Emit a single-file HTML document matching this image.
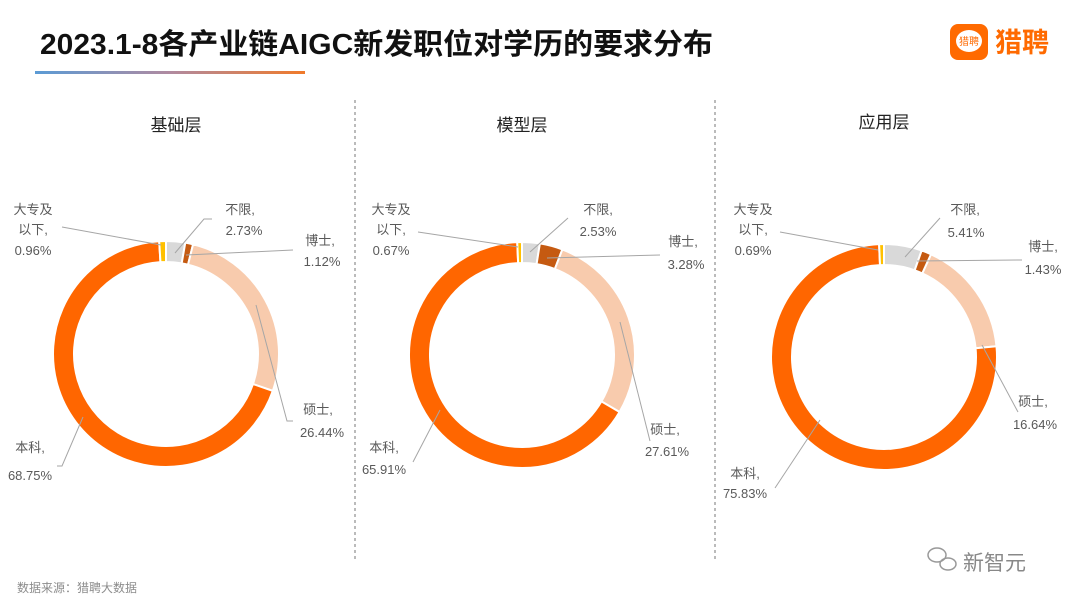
<!DOCTYPE html>
<html><head><meta charset="utf-8"><style>
body{margin:0;width:1080px;height:608px;background:#fff;overflow:hidden;font-family:"Liberation Sans","Noto Sans CJK SC",sans-serif}
</style></head><body>
<svg width="1080" height="608" xmlns="http://www.w3.org/2000/svg" style="position:absolute;left:0;top:0;font-family:'Liberation Sans','Noto Sans CJK SC',sans-serif">
<defs><linearGradient id="g" x1="0" x2="1"><stop offset="0" stop-color="#5b9bd5"/><stop offset="0.5" stop-color="#b08aa0"/><stop offset="1" stop-color="#f07a2a"/></linearGradient></defs>
<text x="40" y="54" font-size="29" font-weight="bold" fill="#111" textLength="673" lengthAdjust="spacingAndGlyphs">2023.1-8各产业链AIGC新发职位对学历的要求分布</text>
<rect x="35" y="71" width="270" height="3" fill="url(#g)"/>
<rect x="950" y="24" width="38" height="36" rx="8" fill="#ff6a00"/>
<ellipse cx="969" cy="41" rx="13" ry="11" fill="#fff"/>
<text x="969" y="45" font-size="10" fill="#ff6a00" text-anchor="middle">猎聘</text>
<text x="995" y="52" font-size="27" font-weight="bold" fill="#ff6a00">猎聘</text>
<line x1="355" y1="100" x2="355" y2="560" stroke="#777" stroke-dasharray="3,3"/>
<line x1="715" y1="100" x2="715" y2="560" stroke="#777" stroke-dasharray="3,3"/>
<g font-size="17" fill="#222" text-anchor="middle">
<text x="176" y="131">基础层</text><text x="522" y="131">模型层</text><text x="884" y="128">应用层</text></g>
<g id="donuts"></g>
<g stroke="#a6a6a6" fill="none" stroke-width="1">
<polyline points="62,227 161,245"/><polyline points="212,219 204,219 175,253"/><polyline points="293,250 186,255"/><polyline points="293,421 287,421 256,305"/><polyline points="57,466 62,466 83,417"/>
<polyline points="418,232 518,247"/><polyline points="568,218 530,252"/><polyline points="660,255 547,258"/><polyline points="650,441 620,322"/><polyline points="413,462 440,410"/>
<polyline points="780,232 878,250"/><polyline points="940,218 905,257"/><polyline points="1022,260 917,261"/><polyline points="1018,412 982,345"/><polyline points="775,488 820,420"/>
</g>
<g font-size="13" fill="#595959" text-anchor="middle">
<text x="33" y="214">大专及</text><text x="33" y="234">以下,</text><text x="33" y="255">0.96%</text>
<text x="240" y="214">不限,</text><text x="244" y="235">2.73%</text>
<text x="320" y="245">博士,</text><text x="322" y="266">1.12%</text>
<text x="318" y="414">硕士,</text><text x="322" y="437">26.44%</text>
<text x="30" y="452">本科,</text><text x="30" y="480">68.75%</text>
<text x="391" y="214">大专及</text><text x="391" y="234">以下,</text><text x="391" y="255">0.67%</text>
<text x="598" y="214">不限,</text><text x="598" y="236">2.53%</text>
<text x="683" y="246">博士,</text><text x="686" y="269">3.28%</text>
<text x="665" y="434">硕士,</text><text x="667" y="456">27.61%</text>
<text x="384" y="452">本科,</text><text x="384" y="474">65.91%</text>
<text x="753" y="214">大专及</text><text x="753" y="234">以下,</text><text x="753" y="255">0.69%</text>
<text x="965" y="214">不限,</text><text x="966" y="237">5.41%</text>
<text x="1043" y="251">博士,</text><text x="1043" y="274">1.43%</text>
<text x="1033" y="406">硕士,</text><text x="1035" y="429">16.64%</text>
<text x="745" y="478">本科,</text><text x="745" y="498">75.83%</text>
</g>
<text x="17" y="592" font-size="12" fill="#8c8c8c">数据来源：猎聘大数据</text>
<g fill="none" stroke="#999" stroke-width="1.5"><ellipse cx="937" cy="555" rx="9" ry="7"/><ellipse cx="948" cy="564" rx="8" ry="6"/></g>
<text x="963" y="570" font-size="21" fill="#888">新智元</text>
</svg>
<script>
var data=[[166,354,[2.73,1.12,26.44,68.75,0.96]],[522,355,[2.53,3.28,27.61,65.91,0.67]],[884,357,[5.41,1.43,16.64,75.83,0.69]]];
var cols=["#d9d9d9","#c55a11","#f8cbad","#ff6600","#ffc000"];
var R=113,r=92,h="";
data.forEach(function(d){var cx=d[0],cy=d[1],a=0;
d[2].forEach(function(v,i){var a0=a,a1=a+v/100*2*Math.PI;a=a1;
function p(rr,t){return (cx+rr*Math.sin(t)).toFixed(2)+","+(cy-rr*Math.cos(t)).toFixed(2)}
var lg=(a1-a0)>Math.PI?1:0;
h+='<path d="M'+p(R,a0)+' A'+R+','+R+' 0 '+lg+' 1 '+p(R,a1)+' L'+p(r,a1)+' A'+r+','+r+' 0 '+lg+' 0 '+p(r,a0)+' Z" fill="'+cols[i]+'" stroke="#fff" stroke-width="2"/>';});});
document.getElementById("donuts").innerHTML=h;
</script>
</body></html>
